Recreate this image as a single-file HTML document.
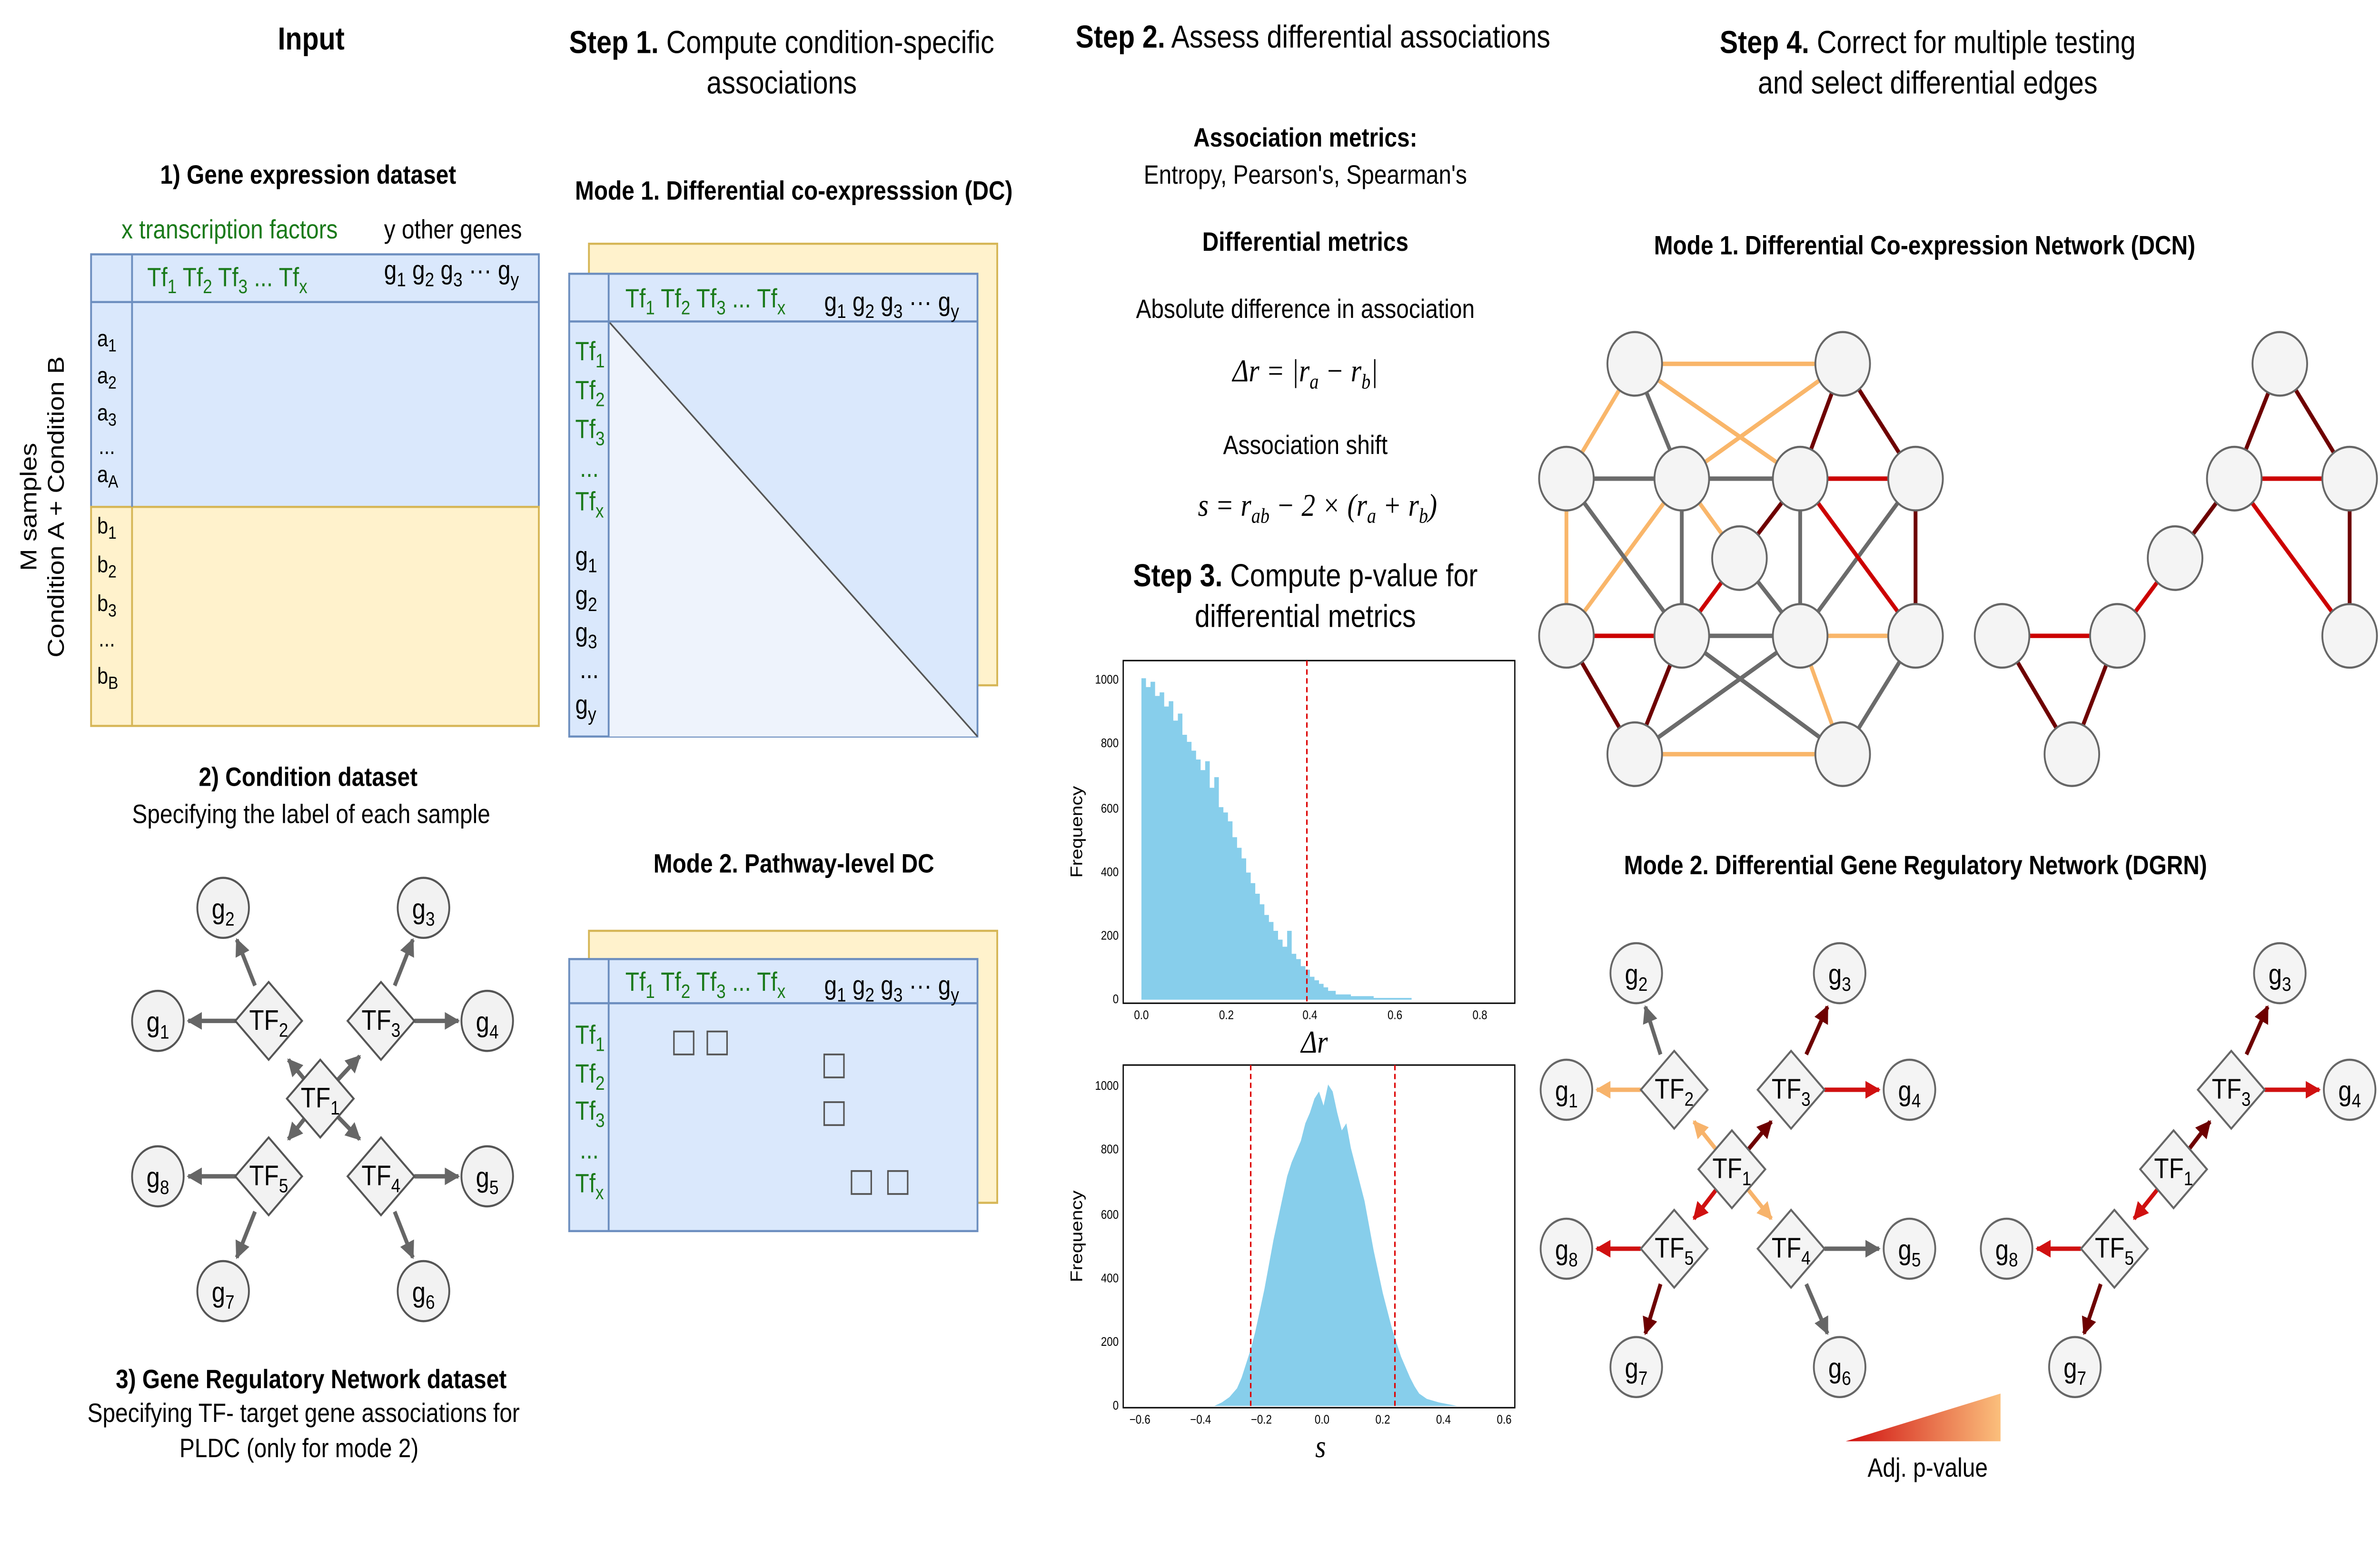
<!DOCTYPE html>
<html><head><meta charset="utf-8"><style>
html,body{margin:0;padding:0;background:#fff;width:100%;height:100%;overflow:hidden}
svg{display:block;position:fixed;left:0;top:0;width:100vw;height:100vh}
</style></head><body>
<svg xmlns="http://www.w3.org/2000/svg" viewBox="0 0 1568 877" preserveAspectRatio="none" font-family="Liberation Sans, sans-serif">
<defs>
<marker id="ag" viewBox="0 0 10 10" refX="9" refY="5" markerWidth="4" markerHeight="4" orient="auto"><path d="M0,0L10,5L0,10z" fill="#666"/></marker>
<marker id="ar" viewBox="0 0 10 10" refX="9" refY="5" markerWidth="4" markerHeight="4" orient="auto"><path d="M0,0L10,5L0,10z" fill="#d01010"/></marker>
<marker id="ad" viewBox="0 0 10 10" refX="9" refY="5" markerWidth="4" markerHeight="4" orient="auto"><path d="M0,0L10,5L0,10z" fill="#6e0000"/></marker>
<marker id="ao" viewBox="0 0 10 10" refX="9" refY="5" markerWidth="4" markerHeight="4" orient="auto"><path d="M0,0L10,5L0,10z" fill="#f7b36b"/></marker>
<linearGradient id="pg" x1="0" x2="1"><stop offset="0" stop-color="#d01010"/><stop offset="1" stop-color="#fbbf7c"/></linearGradient>
</defs>

<g font-size="18" text-anchor="middle">
<text x="205" y="28" font-weight="bold">Input</text>
<text x="515" y="30"><tspan font-weight="bold">Step 1.</tspan>  Compute condition-specific</text>
<text x="515" y="53">associations</text>
<text x="865" y="27"><tspan font-weight="bold">Step 2.</tspan>  Assess differential associations</text>
<text x="1270" y="30"><tspan font-weight="bold">Step 4.</tspan>  Correct for multiple testing</text>
<text x="1270" y="53">and select differential edges</text>
<text x="860" y="332"><tspan font-weight="bold">Step 3.</tspan>  Compute p-value for</text>
<text x="860" y="355">differential metrics</text>
</g>

<g font-size="15" text-anchor="middle">
<text x="203" y="104" font-weight="bold">1) Gene expression dataset</text>
<text x="523" y="113" font-weight="bold">Mode 1. Differential co-expresssion (DC)</text>
<text x="523" y="494" font-weight="bold">Mode 2. Pathway-level DC</text>
<text x="860" y="83" font-weight="bold">Association metrics:</text>
<text x="860" y="104">Entropy, Pearson's, Spearman's</text>
<text x="860" y="142" font-weight="bold">Differential metrics</text>
<text x="860" y="180">Absolute difference in association</text>
<text x="860" y="257">Association shift</text>
<text x="1268" y="144" font-weight="bold">Mode 1. Differential Co-expression Network (DCN)</text>
<text x="1262" y="495" font-weight="bold">Mode 2. Differential Gene Regulatory Network (DGRN)</text>
<text x="203" y="445" font-weight="bold">2) Condition dataset</text>
<text x="205" y="466">Specifying the label of each sample</text>
<text x="205" y="786" font-weight="bold">3) Gene Regulatory Network dataset</text>
<text x="200" y="805">Specifying TF- target gene associations for</text>
<text x="197" y="825">PLDC (only for mode 2)</text>
<text x="1270" y="836">Adj. p-value</text>
</g>
<g font-family="Liberation Serif, serif" font-style="italic" font-size="18" text-anchor="middle">
<text x="860" y="216">Δr = |r<tspan font-size="12" dy="4">a</tspan><tspan dy="-4"> − r</tspan><tspan font-size="12" dy="4">b</tspan><tspan dy="-4">|</tspan></text>
<text x="868" y="292">s = r<tspan font-size="12" dy="4">ab</tspan><tspan dy="-4"> − 2 × (r</tspan><tspan font-size="12" dy="4">a</tspan><tspan dy="-4"> + r</tspan><tspan font-size="12" dy="4">b</tspan><tspan dy="-4">)</tspan></text>
<text x="866" y="596">Δr</text>
<text x="870" y="825">s</text>
</g>

<text x="80" y="135" font-size="15" fill="#1a7a1a">x transcription factors</text>
<text x="253" y="135" font-size="15">y other genes</text>
<rect x="60" y="144" width="295" height="143" fill="#dae8fc" stroke="#6c8ebf" stroke-width="1.2"/>
<rect x="60" y="287" width="295" height="124" fill="#fff2cc" stroke="#d6b656" stroke-width="1.2"/>
<line x1="60" y1="171" x2="355" y2="171" stroke="#6c8ebf" stroke-width="1.2"/>
<line x1="87" y1="144" x2="87" y2="287" stroke="#6c8ebf" stroke-width="1.2"/>
<line x1="87" y1="287" x2="87" y2="411" stroke="#d6b656" stroke-width="1.2"/>
<text x="97" y="162" font-size="15" fill="#1a7a1a">Tf<tspan font-size="11" dy="4">1</tspan><tspan dy="-4"> Tf</tspan><tspan font-size="11" dy="4">2</tspan><tspan dy="-4"> Tf</tspan><tspan font-size="11" dy="4">3</tspan><tspan dy="-4"> ... Tf</tspan><tspan font-size="11" dy="4">x</tspan></text>
<text x="253" y="158" font-size="15">g<tspan font-size="11" dy="4">1</tspan><tspan dy="-4"> g</tspan><tspan font-size="11" dy="4">2</tspan><tspan dy="-4"> g</tspan><tspan font-size="11" dy="4">3</tspan><tspan dy="-4"> ··· g</tspan><tspan font-size="11" dy="4">y</tspan></text>
<g font-size="13">
<text x="64" y="196">a<tspan font-size="10" dy="3">1</tspan></text>
<text x="64" y="217">a<tspan font-size="10" dy="3">2</tspan></text>
<text x="64" y="238">a<tspan font-size="10" dy="3">3</tspan></text>
<text x="65" y="257">...</text>
<text x="64" y="273">a<tspan font-size="10" dy="3">A</tspan></text>
<text x="64" y="302">b<tspan font-size="10" dy="3">1</tspan></text>
<text x="64" y="324">b<tspan font-size="10" dy="3">2</tspan></text>
<text x="64" y="346">b<tspan font-size="10" dy="3">3</tspan></text>
<text x="65" y="366">...</text>
<text x="64" y="387">b<tspan font-size="10" dy="3">B</tspan></text>
</g>
<text transform="translate(24,287) rotate(-90)" font-size="15" text-anchor="middle">M samples</text>
<text transform="translate(42,287) rotate(-90)" font-size="15" text-anchor="middle">Condition A + Condition B</text>

<rect x="388" y="138" width="269" height="250" fill="#fff2cc" stroke="#d6b656" stroke-width="1.2"/>
<rect x="375" y="155" width="269" height="262" fill="#dae8fc" stroke="#6c8ebf" stroke-width="1.2"/>
<polygon points="401,182 644,417 401,417" fill="#eef3fc"/>
<line x1="401" y1="182" x2="644" y2="417" stroke="#555" stroke-width="1"/>
<line x1="375" y1="182" x2="644" y2="182" stroke="#6c8ebf" stroke-width="1.2"/>
<line x1="401" y1="155" x2="401" y2="417" stroke="#6c8ebf" stroke-width="1.2"/>
<text x="412" y="174" font-size="15" fill="#1a7a1a">Tf<tspan font-size="11" dy="4">1</tspan><tspan dy="-4"> Tf</tspan><tspan font-size="11" dy="4">2</tspan><tspan dy="-4"> Tf</tspan><tspan font-size="11" dy="4">3</tspan><tspan dy="-4"> ... Tf</tspan><tspan font-size="11" dy="4">x</tspan></text>
<text x="543" y="176" font-size="15">g<tspan font-size="11" dy="4">1</tspan><tspan dy="-4"> g</tspan><tspan font-size="11" dy="4">2</tspan><tspan dy="-4"> g</tspan><tspan font-size="11" dy="4">3</tspan><tspan dy="-4"> ··· g</tspan><tspan font-size="11" dy="4">y</tspan></text>
<g font-size="15" fill="#1a7a1a">
<text x="379" y="204">Tf<tspan font-size="11" dy="4">1</tspan></text>
<text x="379" y="226">Tf<tspan font-size="11" dy="4">2</tspan></text>
<text x="379" y="248">Tf<tspan font-size="11" dy="4">3</tspan></text>
<text x="382" y="270">...</text>
<text x="379" y="289">Tf<tspan font-size="11" dy="4">x</tspan></text>
</g>
<g font-size="15">
<text x="379" y="320">g<tspan font-size="11" dy="4">1</tspan></text>
<text x="379" y="342">g<tspan font-size="11" dy="4">2</tspan></text>
<text x="379" y="363">g<tspan font-size="11" dy="4">3</tspan></text>
<text x="382" y="384">...</text>
<text x="379" y="404">g<tspan font-size="11" dy="4">y</tspan></text>
</g>

<rect x="388" y="527" width="269" height="154" fill="#fff2cc" stroke="#d6b656" stroke-width="1.2"/>
<rect x="375" y="543" width="269" height="154" fill="#dae8fc" stroke="#6c8ebf" stroke-width="1.2"/>
<line x1="375" y1="568" x2="644" y2="568" stroke="#6c8ebf" stroke-width="1.2"/>
<line x1="401" y1="543" x2="401" y2="697" stroke="#6c8ebf" stroke-width="1.2"/>
<text x="412" y="561" font-size="15" fill="#1a7a1a">Tf<tspan font-size="11" dy="4">1</tspan><tspan dy="-4"> Tf</tspan><tspan font-size="11" dy="4">2</tspan><tspan dy="-4"> Tf</tspan><tspan font-size="11" dy="4">3</tspan><tspan dy="-4"> ... Tf</tspan><tspan font-size="11" dy="4">x</tspan></text>
<text x="543" y="563" font-size="15">g<tspan font-size="11" dy="4">1</tspan><tspan dy="-4"> g</tspan><tspan font-size="11" dy="4">2</tspan><tspan dy="-4"> g</tspan><tspan font-size="11" dy="4">3</tspan><tspan dy="-4"> ··· g</tspan><tspan font-size="11" dy="4">y</tspan></text>
<g font-size="15" fill="#1a7a1a">
<text x="379" y="591">Tf<tspan font-size="11" dy="4">1</tspan></text>
<text x="379" y="613">Tf<tspan font-size="11" dy="4">2</tspan></text>
<text x="379" y="634">Tf<tspan font-size="11" dy="4">3</tspan></text>
<text x="382" y="656">...</text>
<text x="379" y="675">Tf<tspan font-size="11" dy="4">x</tspan></text>
</g>
<g fill="none" stroke="#555" stroke-width="1">
<rect x="444" y="584" width="13" height="13"/><rect x="466" y="584" width="13" height="13"/>
<rect x="543" y="597" width="13" height="13"/><rect x="543" y="624" width="13" height="13"/>
<rect x="561" y="663" width="13" height="13"/><rect x="585" y="663" width="13" height="13"/>
</g>

<g stroke="#666" stroke-width="2.5" fill="none" marker-end="url(#ag)">
<line x1="211" y1="622" x2="190" y2="645"/><line x1="211" y1="622" x2="190" y2="600"/>
<line x1="211" y1="622" x2="237" y2="598"/><line x1="211" y1="622" x2="237" y2="645"/>
<line x1="168" y1="558" x2="156" y2="532"/><line x1="157" y1="578" x2="124" y2="578"/>
<line x1="260" y1="558" x2="272" y2="532"/><line x1="273" y1="578" x2="302" y2="578"/>
<line x1="157" y1="666" x2="124" y2="666"/><line x1="168" y1="686" x2="156" y2="712"/>
<line x1="273" y1="666" x2="302" y2="666"/><line x1="260" y1="686" x2="272" y2="712"/>
</g>
<g fill="#f2f2f2" stroke="#555" stroke-width="1.2">
<circle cx="147" cy="514" r="17"/><circle cx="279" cy="514" r="17"/><circle cx="104" cy="578" r="17"/><circle cx="321" cy="578" r="17"/>
<circle cx="104" cy="666" r="17"/><circle cx="321" cy="666" r="17"/><circle cx="147" cy="731" r="17"/><circle cx="279" cy="731" r="17"/>
<polygon points="211,600 233,622 211,644 189,622"/>
<polygon points="177,556 199,578 177,600 155,578"/><polygon points="251,556 273,578 251,600 229,578"/>
<polygon points="177,644 199,666 177,688 155,666"/><polygon points="251,644 273,666 251,688 229,666"/>
</g>
<g font-size="16" text-anchor="middle">
<text x="147" y="520">g<tspan font-size="11" dy="4">2</tspan></text><text x="279" y="520">g<tspan font-size="11" dy="4">3</tspan></text>
<text x="104" y="584">g<tspan font-size="11" dy="4">1</tspan></text><text x="321" y="584">g<tspan font-size="11" dy="4">4</tspan></text>
<text x="104" y="672">g<tspan font-size="11" dy="4">8</tspan></text><text x="321" y="672">g<tspan font-size="11" dy="4">5</tspan></text>
<text x="147" y="737">g<tspan font-size="11" dy="4">7</tspan></text><text x="279" y="737">g<tspan font-size="11" dy="4">6</tspan></text>
<text x="211" y="627">TF<tspan font-size="11" dy="4">1</tspan></text>
<text x="177" y="583">TF<tspan font-size="11" dy="4">2</tspan></text><text x="251" y="583">TF<tspan font-size="11" dy="4">3</tspan></text>
<text x="177" y="671">TF<tspan font-size="11" dy="4">5</tspan></text><text x="251" y="671">TF<tspan font-size="11" dy="4">4</tspan></text>
</g>

<rect x="740" y="374" width="258" height="194" fill="#fff" stroke="#000" stroke-width="0.8"/>
<polygon fill="#87ceeb" points="752,566 752,384 755,384 755,389 758,389 758,386 761,386 761,394 764,394 764,392 767,392 767,400 770,400 770,397 773,397 773,408 776,408 776,404 779,404 779,416 782,416 782,420 785,420 785,425 788,425 788,430 791,430 791,436 794,436 794,431 797,431 797,446 800,446 800,440 803,440 803,457 806,457 806,460 809,460 809,465 812,465 812,474 815,474 815,480 818,480 818,486 821,486 821,494 824,494 824,500 827,500 827,506 830,506 830,512 833,512 833,518 836,518 836,522 839,522 839,527 842,527 842,532 845,532 845,536 848,536 848,527 851,527 851,540 854,540 854,543 857,543 857,547 860,547 860,549 863,549 863,553 866,553 866,555 869,555 869,557 872,557 872,559 875,559 875,561 880,561 880,563 890,563 890,564 905,564 905,565 930,565 930,566"/>
<line x1="861" y1="374" x2="861" y2="568" stroke="#d00" stroke-dasharray="3,2" stroke-width="1"/>
<g font-size="7" text-anchor="middle">
<text x="752" y="577">0.0</text><text x="808" y="577">0.2</text><text x="863" y="577">0.4</text><text x="919" y="577">0.6</text><text x="975" y="577">0.8</text>
</g>
<g font-size="7" text-anchor="end">
<text x="737" y="568">0</text><text x="737" y="532">200</text><text x="737" y="496">400</text><text x="737" y="460">600</text><text x="737" y="423">800</text><text x="737" y="387">1000</text>
</g>
<text transform="translate(713,471) rotate(-90)" font-size="11" text-anchor="middle">Frequency</text>

<rect x="740" y="603" width="258" height="194" fill="#fff" stroke="#000" stroke-width="0.8"/>
<polygon fill="#87ceeb" points="800,796 805,794 810,791 815,786 818,780 821,772 824,764 827,754 830,742 833,730 836,716 839,702 842,690 845,678 848,666 851,658 854,652 857,646 860,636 863,630 866,622 869,618 872,626 875,614 878,618 881,630 884,640 887,636 890,650 893,660 896,670 899,680 902,694 905,708 908,720 911,732 914,742 917,752 920,760 923,768 926,774 929,780 932,785 935,789 940,792 948,794 960,796"/>
<line x1="824" y1="603" x2="824" y2="797" stroke="#d00" stroke-dasharray="3,2" stroke-width="1"/>
<line x1="919" y1="603" x2="919" y2="797" stroke="#d00" stroke-dasharray="3,2" stroke-width="1"/>
<g font-size="7" text-anchor="middle">
<text x="751" y="806">−0.6</text><text x="791" y="806">−0.4</text><text x="831" y="806">−0.2</text><text x="871" y="806">0.0</text><text x="911" y="806">0.2</text><text x="951" y="806">0.4</text><text x="991" y="806">0.6</text>
</g>
<g font-size="7" text-anchor="end">
<text x="737" y="798">0</text><text x="737" y="762">200</text><text x="737" y="726">400</text><text x="737" y="690">600</text><text x="737" y="653">800</text><text x="737" y="617">1000</text>
</g>
<text transform="translate(713,700) rotate(-90)" font-size="11" text-anchor="middle">Frequency</text>

<!-- DCN left: A1077,206 B1214,206 C1032,271 D1108,271 E1186,271 F1262,271 G1146,316 H1032,360 I1108,360 J1186,360 K1262,360 L1077,427 M1214,427 -->
<g stroke-width="2.5" fill="none">
<g stroke="#f9b66a">
<line x1="1077" y1="206" x2="1214" y2="206"/><line x1="1077" y1="206" x2="1186" y2="271"/><line x1="1214" y1="206" x2="1108" y2="271"/>
<line x1="1077" y1="206" x2="1032" y2="271"/><line x1="1032" y1="271" x2="1032" y2="360"/><line x1="1108" y1="271" x2="1032" y2="360"/>
<line x1="1108" y1="271" x2="1146" y2="316"/><line x1="1186" y1="360" x2="1262" y2="360"/><line x1="1186" y1="360" x2="1214" y2="427"/>
<line x1="1077" y1="427" x2="1214" y2="427"/>
</g>
<g stroke="#6b6b6b">
<line x1="1077" y1="206" x2="1108" y2="271"/><line x1="1032" y1="271" x2="1108" y2="271"/><line x1="1108" y1="271" x2="1186" y2="271"/>
<line x1="1032" y1="271" x2="1108" y2="360"/><line x1="1108" y1="271" x2="1108" y2="360"/><line x1="1186" y1="271" x2="1186" y2="360"/>
<line x1="1146" y1="316" x2="1186" y2="360"/><line x1="1108" y1="360" x2="1186" y2="360"/><line x1="1262" y1="271" x2="1186" y2="360"/>
<line x1="1108" y1="360" x2="1214" y2="427"/><line x1="1186" y1="360" x2="1077" y2="427"/><line x1="1262" y1="360" x2="1214" y2="427"/>
</g>
<g stroke="#6e0000">
<line x1="1214" y1="206" x2="1186" y2="271"/><line x1="1214" y1="206" x2="1262" y2="271"/><line x1="1262" y1="271" x2="1262" y2="360"/>
<line x1="1032" y1="360" x2="1077" y2="427"/><line x1="1108" y1="360" x2="1077" y2="427"/><line x1="1186" y1="271" x2="1146" y2="316"/>
</g>
<g stroke="#cc0000">
<line x1="1186" y1="271" x2="1262" y2="271"/><line x1="1186" y1="271" x2="1262" y2="360"/><line x1="1032" y1="360" x2="1108" y2="360"/>
<line x1="1146" y1="316" x2="1108" y2="360"/>
</g>
</g>
<g fill="#f4f4f4" stroke="#666" stroke-width="1.2">
<circle cx="1077" cy="206" r="18"/><circle cx="1214" cy="206" r="18"/><circle cx="1032" cy="271" r="18"/><circle cx="1108" cy="271" r="18"/>
<circle cx="1186" cy="271" r="18"/><circle cx="1262" cy="271" r="18"/><circle cx="1146" cy="316" r="18"/><circle cx="1032" cy="360" r="18"/>
<circle cx="1108" cy="360" r="18"/><circle cx="1186" cy="360" r="18"/><circle cx="1262" cy="360" r="18"/><circle cx="1077" cy="427" r="18"/><circle cx="1214" cy="427" r="18"/>
</g>

<g stroke-width="2.5">
<line x1="1502" y1="206" x2="1472" y2="271" stroke="#6e0000"/><line x1="1502" y1="206" x2="1548" y2="271" stroke="#6e0000"/>
<line x1="1472" y1="271" x2="1548" y2="271" stroke="#cc0000"/><line x1="1472" y1="271" x2="1548" y2="360" stroke="#cc0000"/>
<line x1="1548" y1="271" x2="1548" y2="360" stroke="#6e0000"/>
<line x1="1472" y1="271" x2="1433" y2="316" stroke="#6e0000"/><line x1="1433" y1="316" x2="1395" y2="360" stroke="#cc0000"/>
<line x1="1319" y1="360" x2="1395" y2="360" stroke="#cc0000"/><line x1="1319" y1="360" x2="1365" y2="427" stroke="#6e0000"/>
<line x1="1395" y1="360" x2="1365" y2="427" stroke="#6e0000"/>
</g>
<g fill="#f4f4f4" stroke="#666" stroke-width="1.2">
<circle cx="1502" cy="206" r="18"/><circle cx="1472" cy="271" r="18"/><circle cx="1548" cy="271" r="18"/><circle cx="1433" cy="316" r="18"/>
<circle cx="1548" cy="360" r="18"/><circle cx="1319" cy="360" r="18"/><circle cx="1395" cy="360" r="18"/><circle cx="1365" cy="427" r="18"/>
</g>

<g stroke-width="2.5" fill="none">
<line x1="1141" y1="662" x2="1116" y2="635" stroke="#f7b36b" marker-end="url(#ao)"/>
<line x1="1141" y1="662" x2="1167" y2="635" stroke="#6e0000" marker-end="url(#ad)"/>
<line x1="1141" y1="662" x2="1116" y2="690" stroke="#d01010" marker-end="url(#ar)"/>
<line x1="1141" y1="662" x2="1167" y2="690" stroke="#f7b36b" marker-end="url(#ao)"/>
<line x1="1094" y1="597" x2="1084" y2="570" stroke="#666" marker-end="url(#ag)"/>
<line x1="1081" y1="617" x2="1052" y2="617" stroke="#f7b36b" marker-end="url(#ao)"/>
<line x1="1190" y1="597" x2="1204" y2="570" stroke="#6e0000" marker-end="url(#ad)"/>
<line x1="1202" y1="617" x2="1238" y2="617" stroke="#d01010" marker-end="url(#ar)"/>
<line x1="1081" y1="707" x2="1052" y2="707" stroke="#d01010" marker-end="url(#ar)"/>
<line x1="1094" y1="727" x2="1084" y2="755" stroke="#6e0000" marker-end="url(#ad)"/>
<line x1="1202" y1="707" x2="1238" y2="707" stroke="#666" marker-end="url(#ag)"/>
<line x1="1190" y1="727" x2="1204" y2="755" stroke="#666" marker-end="url(#ag)"/>
</g>
<g stroke-width="2.5" fill="none">
<line x1="1432" y1="662" x2="1406" y2="690" stroke="#d01010" marker-end="url(#ar)"/>
<line x1="1432" y1="662" x2="1456" y2="635" stroke="#6e0000" marker-end="url(#ad)"/>
<line x1="1480" y1="597" x2="1494" y2="570" stroke="#6e0000" marker-end="url(#ad)"/>
<line x1="1492" y1="617" x2="1528" y2="617" stroke="#d01010" marker-end="url(#ar)"/>
<line x1="1371" y1="707" x2="1342" y2="707" stroke="#d01010" marker-end="url(#ar)"/>
<line x1="1384" y1="727" x2="1373" y2="755" stroke="#6e0000" marker-end="url(#ad)"/>
</g>
<g fill="#f4f4f4" stroke="#666" stroke-width="1.2">
<circle cx="1078" cy="551" r="17"/><circle cx="1212" cy="551" r="17"/><circle cx="1032" cy="617" r="17"/><circle cx="1258" cy="617" r="17"/>
<circle cx="1032" cy="707" r="17"/><circle cx="1258" cy="707" r="17"/><circle cx="1078" cy="774" r="17"/><circle cx="1212" cy="774" r="17"/>
<polygon points="1141,640 1163,662 1141,684 1119,662"/>
<polygon points="1103,595 1125,617 1103,639 1081,617"/><polygon points="1180,595 1202,617 1180,639 1158,617"/>
<polygon points="1103,685 1125,707 1103,729 1081,707"/><polygon points="1180,685 1202,707 1180,729 1158,707"/>
<circle cx="1502" cy="551" r="17"/><circle cx="1548" cy="617" r="17"/><circle cx="1322" cy="707" r="17"/><circle cx="1367" cy="774" r="17"/>
<polygon points="1470,595 1492,617 1470,639 1448,617"/><polygon points="1432,640 1454,662 1432,684 1410,662"/><polygon points="1393,685 1415,707 1393,729 1371,707"/>
</g>
<g font-size="16" text-anchor="middle">
<text x="1078" y="557">g<tspan font-size="11" dy="4">2</tspan></text><text x="1212" y="557">g<tspan font-size="11" dy="4">3</tspan></text>
<text x="1032" y="623">g<tspan font-size="11" dy="4">1</tspan></text><text x="1258" y="623">g<tspan font-size="11" dy="4">4</tspan></text>
<text x="1032" y="713">g<tspan font-size="11" dy="4">8</tspan></text><text x="1258" y="713">g<tspan font-size="11" dy="4">5</tspan></text>
<text x="1078" y="780">g<tspan font-size="11" dy="4">7</tspan></text><text x="1212" y="780">g<tspan font-size="11" dy="4">6</tspan></text>
<text x="1141" y="667">TF<tspan font-size="11" dy="4">1</tspan></text>
<text x="1103" y="622">TF<tspan font-size="11" dy="4">2</tspan></text><text x="1180" y="622">TF<tspan font-size="11" dy="4">3</tspan></text>
<text x="1103" y="712">TF<tspan font-size="11" dy="4">5</tspan></text><text x="1180" y="712">TF<tspan font-size="11" dy="4">4</tspan></text>
<text x="1502" y="557">g<tspan font-size="11" dy="4">3</tspan></text><text x="1548" y="623">g<tspan font-size="11" dy="4">4</tspan></text>
<text x="1322" y="713">g<tspan font-size="11" dy="4">8</tspan></text><text x="1367" y="780">g<tspan font-size="11" dy="4">7</tspan></text>
<text x="1470" y="622">TF<tspan font-size="11" dy="4">3</tspan></text><text x="1432" y="667">TF<tspan font-size="11" dy="4">1</tspan></text><text x="1393" y="712">TF<tspan font-size="11" dy="4">5</tspan></text>
</g>

<polygon points="1216,816 1318,789 1318,816" fill="url(#pg)"/>
</svg>
</body></html>
